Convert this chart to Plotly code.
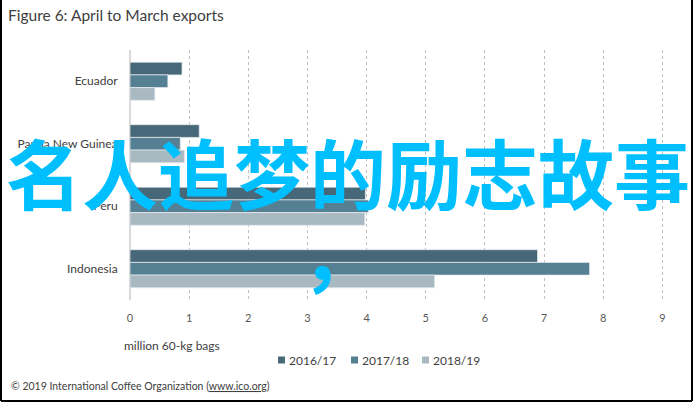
import plotly.graph_objects as go

categories = ["Ecuador", "Papua New Guinea", "Peru", "Indonesia"]
series_names = ["2016/17", "2017/18", "2018/19"]
exports_2016_17 = [0.88, 1.17, 3.98, 6.89]
exports_2017_18 = [0.64, 0.85, 4.03, 7.77]
exports_2018_19 = [0.42, 0.92, 3.97, 5.15]
x_ticks = [0, 1, 2, 3, 4, 5, 6, 7, 8, 9]

colors = ["#476878", "#557F93", "#A9B9C2"]

W, H = 695, 405
L, R, T, B = 130, 9, 50, 105
PW, PH = W - L - R, H - T - B


def px(x):
    return (x - L) / PW


def py(y):
    return (H - B - y) / PH


FONT = "Lato"
fig = go.Figure()
for name, vals, col in zip(series_names, [exports_2016_17, exports_2017_18, exports_2018_19], colors):
    fig.add_trace(go.Bar(
        y=categories, x=vals, name=name, orientation="h", showlegend=False,
        marker=dict(color=col, line=dict(color="rgba(230,236,240,0.9)", width=0.8)),
    ))

fig.update_layout(
    width=W, height=H,
    margin=dict(l=L, r=R, t=T, b=B, autoexpand=False),
    paper_bgcolor="white", plot_bgcolor="white",
    barmode="group", bargap=0.39, bargroupgap=0,
    font=dict(family=FONT, color="#595959", size=11),
    showlegend=False,
    xaxis=dict(range=[0, 9.4], tickvals=x_ticks, showgrid=True, gridcolor="#BFBFBF",
               griddash="dot", gridwidth=1, zeroline=True, zerolinecolor="#D9D9D9",
               zerolinewidth=1.5, showline=False, ticks="outside", ticklen=8,
               tickcolor="rgba(0,0,0,0)", tickfont=dict(size=11, color="#595959"),
               fixedrange=True, automargin=False),
    yaxis=dict(autorange="reversed", showgrid=False, zeroline=False, showline=False,
               ticks="outside", ticklen=9, tickcolor="rgba(0,0,0,0)",
               tickfont=dict(size=12, color="#404040"), fixedrange=True, automargin=False),
)

anns = [
    dict(text="Figure 6: April to March exports", x=px(6), y=py(15), xanchor="left", yanchor="middle",
         font=dict(size=15.5, color="#404040")),
    dict(text="million 60-kg bags", x=px(122), y=py(345), xanchor="left", yanchor="middle",
         font=dict(size=12, color="#404040")),
    dict(text="© 2019 International Coffee Organization (<span style='text-decoration:underline'>www.ico.org</span>)",
         x=px(9), y=py(386), xanchor="left", yanchor="middle", font=dict(size=10.5, color="#404040")),
    dict(text="名人追梦的励志故事", x=px(347.5), y=py(171), xanchor="center", yanchor="middle",
         font=dict(family="Noto Sans CJK SC", size=76, color="#00BFFF", weight=700)),
    dict(text="，", x=px(299), y=py(251), xanchor="left", yanchor="middle",
         font=dict(family="Noto Sans CJK SC", size=76, color="#00BFFF", weight=700)),
]

# legend (squares + labels)
legend_marker_x = [278, 351, 422]
for name, col, mx in zip(series_names, colors, legend_marker_x):
    fig.add_shape(type="rect", xref="paper", yref="paper", x0=px(mx), x1=px(mx + 7),
                  y0=py(356.5), y1=py(363.5), fillcolor=col, line=dict(width=0))
    anns.append(dict(text=name, x=px(mx + 9), y=py(360), xanchor="left", yanchor="middle",
                     font=dict(size=12, color="#404040")))

for a in anns:
    a.update(xref="paper", yref="paper", showarrow=False)
    fig.add_annotation(**a)

# frame lines
line = dict(color="black", width=2)
fig.add_shape(type="line", xref="paper", yref="paper", x0=px(1), x1=px(1), y0=py(0), y1=py(401), line=line)
fig.add_shape(type="line", xref="paper", yref="paper", x0=px(692), x1=px(692), y0=py(0), y1=py(401), line=line)
fig.add_shape(type="line", xref="paper", yref="paper", x0=px(1), x1=px(692), y0=py(401), y1=py(401), line=line)

fig.write_html("out.html", config={"displayModeBar": False},
               post_script="document.body.style.margin='0';document.body.style.padding='0';")
